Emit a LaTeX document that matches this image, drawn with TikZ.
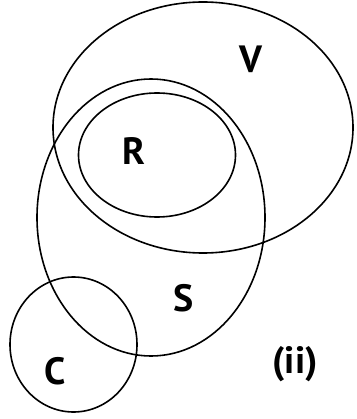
\documentclass[tikz,border=0pt]{standalone}
\usepackage{fontspec}
\setmainfont{PT Sans}
\begin{document}
\begin{tikzpicture}[x=1pt,y=-1pt,
  setline/.style={draw=black,line width=1.6pt},
  lbl/.style={font=\fontsize{38}{42}\selectfont\bfseries,inner sep=0pt}]
\useasboundingbox (0,0) rectangle (356,419);
\draw[setline] (203,127.5) ellipse [x radius=150, y radius=125.5];
\draw[setline] (157,155) ellipse [x radius=78.5, y radius=62];
\draw[setline] (151,217.5) ellipse [x radius=114, y radius=138.5];
\draw[setline] (73.5,344.5) ellipse [x radius=63.5, y radius=67.5];
\node[lbl] (v) at (251,59) {V};
\node[lbl] (r) at (134,151) {R};
\node[lbl] (s) at (184,298) {S};
\node[lbl] (c) at (55,371) {C};
\node[lbl] (ii) at (295,364) {(ii)};
\end{tikzpicture}
\end{document}
